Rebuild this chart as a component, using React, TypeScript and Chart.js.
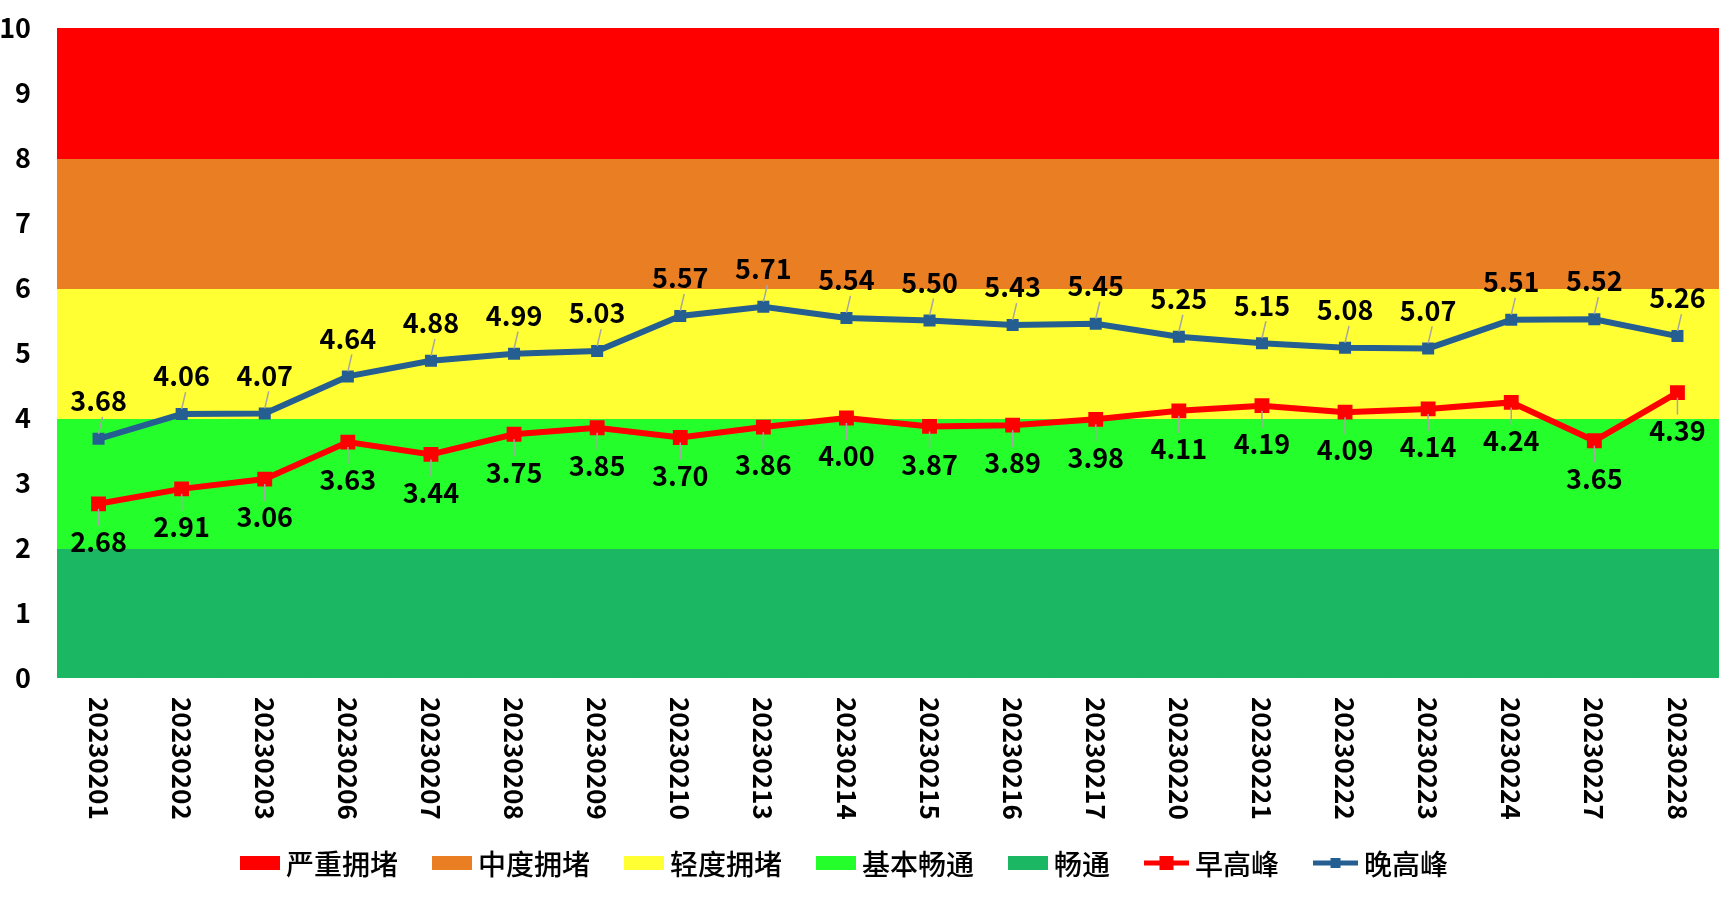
import React, { useEffect, useRef } from 'react';
import { Chart, registerables } from 'chart.js';

Chart.register(...registerables);

const dates = [
  '20230201', '20230202', '20230203', '20230206', '20230207',
  '20230208', '20230209', '20230210', '20230213', '20230214',
  '20230215', '20230216', '20230217', '20230220', '20230221',
  '20230222', '20230223', '20230224', '20230227', '20230228',
];

const morningPeak = [
  2.68, 2.91, 3.06, 3.63, 3.44, 3.75, 3.85, 3.70, 3.86, 4.00,
  3.87, 3.89, 3.98, 4.11, 4.19, 4.09, 4.14, 4.24, 3.65, 4.39,
];

const eveningPeak = [
  3.68, 4.06, 4.07, 4.64, 4.88, 4.99, 5.03, 5.57, 5.71, 5.54,
  5.50, 5.43, 5.45, 5.25, 5.15, 5.08, 5.07, 5.51, 5.52, 5.26,
];

// bands of the congestion index, top to bottom
const bandNames = ['严重拥堵', '中度拥堵', '轻度拥堵', '基本畅通', '畅通'];
const bandRanges = [[8, 10], [6, 8], [4, 6], [2, 4], [0, 2]];
const bandColors = ['#FF0000', '#EA7E22', '#FFFF33', '#24FF2C', '#1BB762'];

const yMin = 0;
const yMax = 10;
const yStep = 1;

const numFont = '"Noto Sans CJK SC", "Open Sans", sans-serif';
const cjkFont = '"Noto Sans CJK SC", sans-serif';

// value labels with small leader lines (evening above, morning below)
const pointLabels = {
  id: 'pointLabels',
  afterDatasetsDraw(chart: any) {
    const ctx = chart.ctx;
    chart.data.datasets.forEach((ds: any, di: number) => {
      if (ds.type !== 'line') return;
      const meta = chart.getDatasetMeta(di);
      const dir = ds.labelSide === 'top' ? -1 : 1;
      meta.data.forEach((pt: any, i: number) => {
        ctx.save();
        ctx.strokeStyle = '#A6A6A6';
        ctx.lineWidth = 1.5;
        ctx.beginPath();
        ctx.moveTo(pt.x, pt.y + dir * 5);
        ctx.lineTo(pt.x + (dir < 0 ? 4 : 0), pt.y + dir * 22);
        ctx.stroke();
        ctx.fillStyle = '#000';
        ctx.font = `bold 27px ${numFont}`;
        ctx.textAlign = 'center';
        ctx.textBaseline = 'middle';
        ctx.fillText(Number(ds.data[i]).toFixed(2), pt.x, pt.y + dir * 38);
        ctx.restore();
      });
    });
  },
};

// x labels read top to bottom, so they are drawn here
const dateLabels = {
  id: 'dateLabels',
  afterDraw(chart: any) {
    const ctx = chart.ctx;
    const xs = chart.scales.x;
    const top = chart.chartArea.bottom + 19;
    ctx.save();
    ctx.fillStyle = '#000';
    ctx.font = `bold 26px ${numFont}`;
    ctx.textAlign = 'left';
    ctx.textBaseline = 'middle';
    dates.forEach((d, i) => {
      ctx.save();
      ctx.translate(xs.getPixelForValue(i), top);
      ctx.rotate(Math.PI / 2);
      ctx.fillText(d, 0, 0);
      ctx.restore();
    });
    ctx.restore();
  },
};

const bottomLegend = {
  id: 'bottomLegend',
  afterDraw(chart: any) {
    const ctx = chart.ctx;
    ctx.save();
    ctx.font = `500 28px ${cjkFont}`;
    const items = chart.data.datasets.map((ds: any) => ({
      label: ds.label as string,
      color: (ds.type === 'line' ? ds.borderColor : ds.backgroundColor) as string,
      line: ds.type === 'line',
      marker: ds.legendMarker || 0,
      w: ds.type === 'line' ? 45 : 40,
    }));
    const gapText = 6;
    const gapItem = 34;
    const widths = items.map((it: any) => it.w + gapText + ctx.measureText(it.label).width);
    const total = widths.reduce((a: number, b: number) => a + b, 0) + gapItem * (items.length - 1);
    let x = (chart.width - total) / 2 - 24;
    const y = chart.chartArea.bottom + 185;
    items.forEach((it: any, i: number) => {
      ctx.fillStyle = it.color;
      if (it.line) {
        ctx.strokeStyle = it.color;
        ctx.lineWidth = 5;
        ctx.beginPath();
        ctx.moveTo(x, y);
        ctx.lineTo(x + it.w, y);
        ctx.stroke();
        ctx.fillRect(x + it.w / 2 - it.marker / 2, y - it.marker / 2, it.marker, it.marker);
      } else {
        ctx.fillRect(x, y - 7, it.w, 14);
      }
      ctx.fillStyle = '#000';
      ctx.textAlign = 'left';
      ctx.textBaseline = 'middle';
      ctx.fillText(it.label, x + it.w + gapText, y + 1);
      x += widths[i] + gapItem;
    });
    ctx.restore();
  },
};

const App: React.FC = () => {
  const chartRef = useRef<HTMLCanvasElement>(null);
  const chartInstance = useRef<Chart | null>(null);

  useEffect(() => {
    if (!chartRef.current) return;
    const ctx = chartRef.current.getContext('2d');

    if (chartInstance.current) {
      chartInstance.current.destroy();
    }

    const bands = bandNames.map((name, i) => ({
      type: 'bar' as const,
      label: name,
      data: dates.map(() => bandRanges[i]),
      backgroundColor: bandColors[i],
      borderWidth: 0,
      borderSkipped: false,
      barPercentage: 1,
      categoryPercentage: 1,
      inflateAmount: 1,
      grouped: false,
      order: 1,
    }));

    chartInstance.current = new Chart(ctx as CanvasRenderingContext2D, {
      type: 'bar',
      data: {
        labels: dates,
        datasets: [
          ...bands,
          {
            type: 'line' as const,
            label: '早高峰',
            data: morningPeak,
            borderColor: '#FF0000',
            backgroundColor: '#FF0000',
            borderWidth: 6,
            pointStyle: 'rect',
            pointRadius: 10.5,
            pointBorderWidth: 0,
            tension: 0,
            order: 0,
            labelSide: 'bottom',
            legendMarker: 14,
          } as any,
          {
            type: 'line' as const,
            label: '晚高峰',
            data: eveningPeak,
            borderColor: '#255E91',
            backgroundColor: '#255E91',
            borderWidth: 6,
            pointStyle: 'rect',
            pointRadius: 8.5,
            pointBorderWidth: 0,
            tension: 0,
            order: 0,
            labelSide: 'top',
            legendMarker: 10,
          } as any,
        ],
      },
      options: {
        responsive: true,
        maintainAspectRatio: false,
        animation: false,
        layout: { padding: { top: 28, right: 17, bottom: 0, left: 0 } },
        plugins: {
          legend: { display: false },
          tooltip: { enabled: false },
        },
        scales: {
          x: {
            type: 'category',
            offset: true,
            grid: { display: false },
            border: { display: false },
            ticks: { display: false },
            afterFit: (scale: any) => {
              scale.height = 223;
            },
          },
          y: {
            type: 'linear',
            min: yMin,
            max: yMax,
            grid: { display: false, drawTicks: false },
            border: { display: false },
            ticks: {
              stepSize: yStep,
              padding: 26,
              color: '#000',
              font: { family: numFont, size: 27, weight: 'bold' },
            },
            afterFit: (scale: any) => {
              scale.width = 57;
              scale.paddingTop = 0;
              scale.paddingBottom = 0;
            },
          },
        },
      },
      plugins: [pointLabels, dateLabels, bottomLegend],
    });

    return () => {
      if (chartInstance.current) {
        chartInstance.current.destroy();
        chartInstance.current = null;
      }
    };
  }, []);

  return (
    <div style={{ position: 'fixed', left: 0, top: 0, width: 1736, height: 901, background: '#fff' }}>
      <canvas ref={chartRef} />
    </div>
  );
};

export default App;
